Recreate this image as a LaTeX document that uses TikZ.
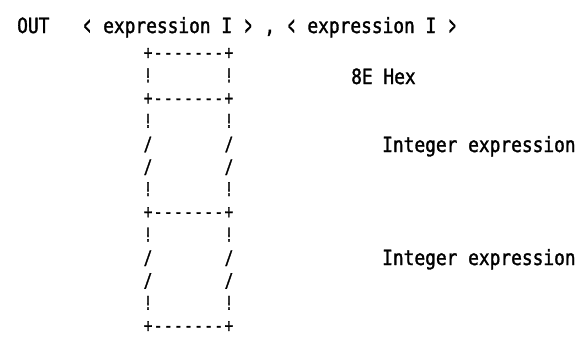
\documentclass[tikz,border=0pt]{standalone}
\usepackage{fontspec}
\usepackage{graphicx}
\newfontfamily\dotfont[FakeStretch=0.85, FakeBold=1.5]{DejaVu Sans Mono}
\newfontfamily\boxfont[FakeStretch=0.75, FakeBold=1.5]{DejaVu Sans Mono}
\newcommand{\boxbar}{+\kern1.52pt-\kern1.52pt-\kern1.52pt-\kern1.52pt-\kern1.52pt-\kern1.52pt-\kern1.52pt-\kern1.52pt+}
\newcommand{\ltb}{\makebox[10.75pt]{\raisebox{-0.08em}{\scalebox{0.6}[1.3]{<}}}}
\newcommand{\gtb}{\makebox[10.75pt]{\raisebox{-0.08em}{\scalebox{0.6}[1.3]{>}}}}
\newcommand{\dotsel}{\dotfont\fontsize{21}{23}\selectfont\fontdimen2\font=10.75pt\fontdimen3\font=0pt\fontdimen4\font=0pt\relax}
\begin{document}
\begin{tikzpicture}[x=1pt,y=-1pt,
  txt/.style={anchor=base west, inner sep=0pt, font=\dotsel},
  boxch/.style={anchor=base, inner sep=0pt, font=\boxfont\fontsize{19}{22}\selectfont}]
\useasboundingbox[fill=white] (0,0) rectangle (587,343);
% title line
\node[txt] (title) at (17,33) {OUT\ \ \ \ltb{} expression I \gtb{} , \ltb{} expression I \gtb};
% box rows: + bars
\foreach \k/\y in {0/59, 2/104.5, 7/218.25, 12/332}
  \node[boxch] (bar\k) at (188.5,\y) {\boxbar};
% box sides
\foreach \k/\y/\c in {1/82.25/!, 3/127.75/!, 4/150.5/{/}, 5/173.25/{/}, 6/196/!,
                      8/241.5/!, 9/264.25/{/}, 10/287/{/}, 11/309.75/!}{
  \node[boxch] (left\k) at (148,\y) {\c};
  \node[boxch] (right\k) at (229,\y) {\c};
}
% labels
\node[txt] (hex) at (351,84) {8E Hex};
\node[txt] (int1) at (382,152) {Integer expression};
\node[txt] (int2) at (382,265) {Integer expression};
\end{tikzpicture}
\end{document}
